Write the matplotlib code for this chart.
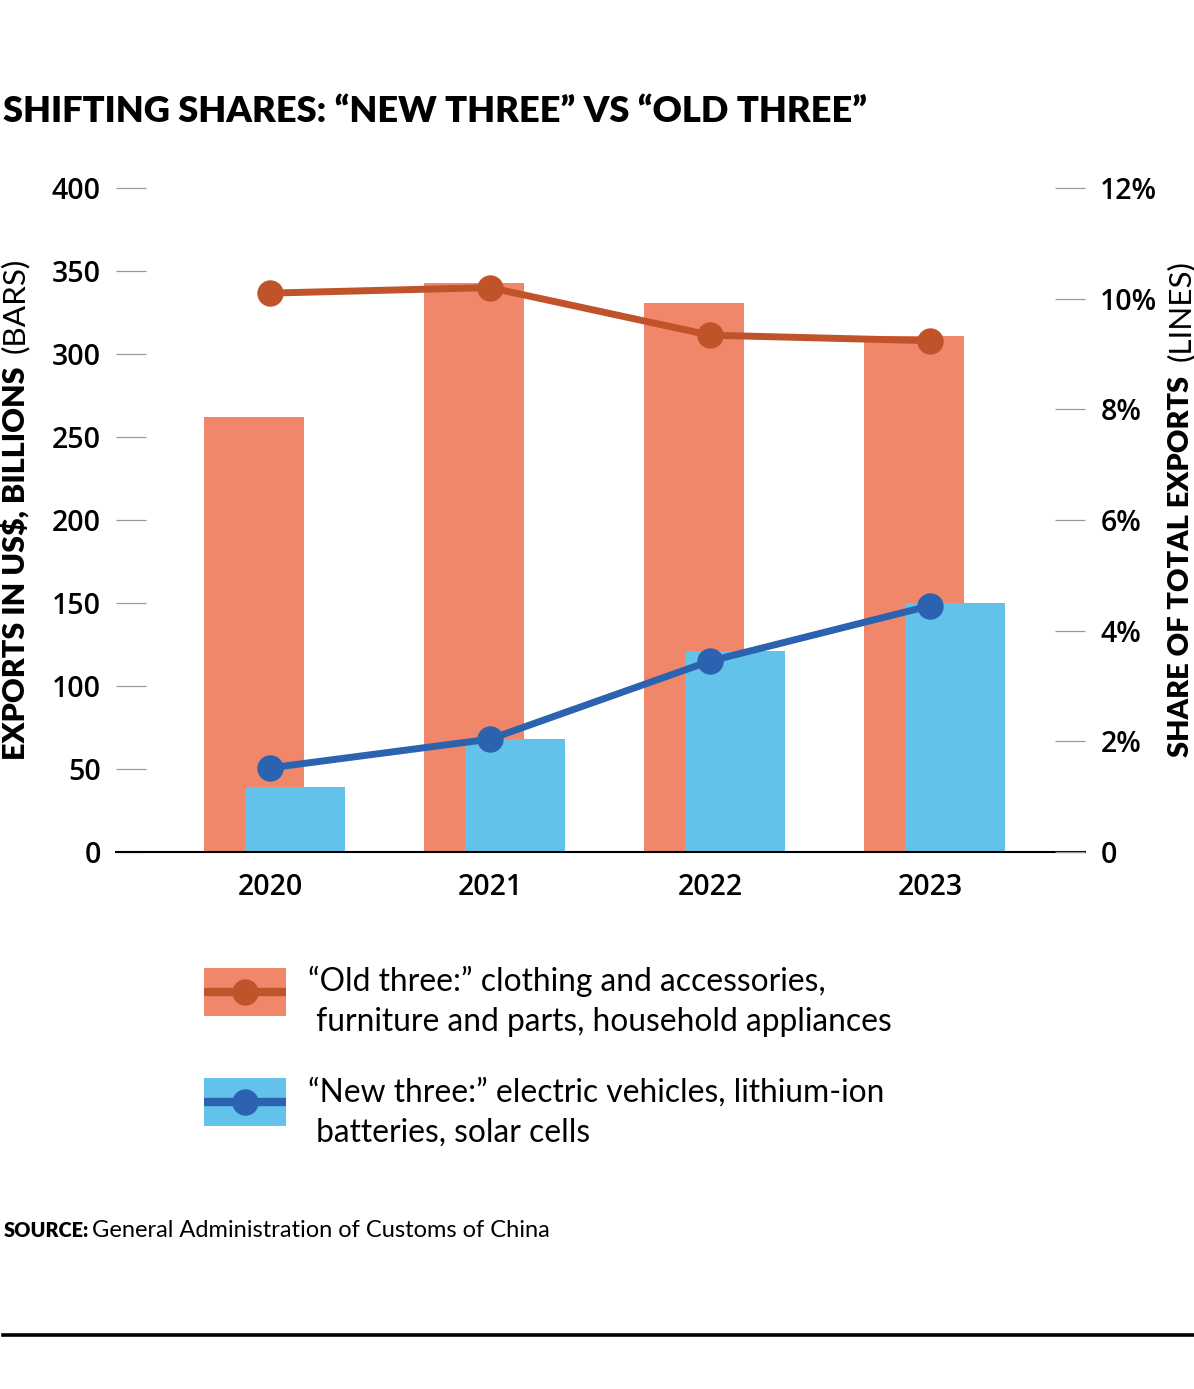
import matplotlib
matplotlib.use("Agg")
import matplotlib.pyplot as plt
from matplotlib.patches import Rectangle
from matplotlib.lines import Line2D
import numpy as np

plt.rcParams['font.family'] = ['Lato', 'DejaVu Sans']

# ---------------- data ----------------
years = ["2020", "2021", "2022", "2023"]
old_exports = [262, 343, 331, 311]        # US$ billions (bars)
new_exports = [39, 68, 121, 150]          # US$ billions (bars)
old_share = [10.1, 10.2, 9.34, 9.24]      # % of total exports (lines)
new_share = [1.52, 2.04, 3.45, 4.45]      # % of total exports (lines)
left_ticks = [0, 50, 100, 150, 200, 250, 300, 350, 400]
right_ticks = [0, 2, 4, 6, 8, 10, 12]
right_labels = ["0", "2%", "4%", "6%", "8%", "10%", "12%"]

title = "SHIFTING SHARES: \u201cNEW THREE\u201d VS \u201cOLD THREE\u201d"
old_label = ["\u201cOld three:\u201d clothing and accessories,",
             " furniture and parts, household appliances"]
new_label = ["\u201cNew three:\u201d electric vehicles, lithium-ion",
             " batteries, solar cells"]

C_OLD_BAR = "#F0876A"
C_OLD_LINE = "#C1532B"
C_NEW_BAR = "#63C2E9"
C_NEW_LINE = "#2B63B0"
TICK_FONT = ['Open Sans', 'DejaVu Sans']

W, H = 1194, 1389
fig = plt.figure(figsize=(W / 100, H / 100), dpi=100)
renderer = fig.canvas.get_renderer()


def fx(px):
    return px / W


def fy(py):
    return 1 - py / H


def fit(t, target_w, horizontal=True):
    bb = t.get_window_extent(renderer)
    cur = bb.width if horizontal else bb.height
    t.set_fontsize(t.get_fontsize() * target_w / cur)
    return t


# ---------------- main axes ----------------
ax_l, ax_r, ax_t, ax_b = 116, 1085, 188, 852
ax = fig.add_axes([fx(ax_l), fy(ax_b), fx(ax_r - ax_l), (ax_b - ax_t) / H])
x = np.arange(len(years))
bw = 100 / 220
ax.bar(x - 16 / 220, old_exports, width=bw, color=C_OLD_BAR, zorder=2)
ax.bar(x + 25 / 220, new_exports, width=bw, color=C_NEW_BAR, zorder=3)
ax.set_xlim(-0.7, 3.705)
ax.set_ylim(0, 400)
ax.set_yticks(left_ticks)
ax.set_yticklabels([str(v) for v in left_ticks])
ax.set_xticks(x)
ax.set_xticklabels(years)
for s in ["top", "left", "right"]:
    ax.spines[s].set_visible(False)
ax.spines["bottom"].set_linewidth(1.5)
ax.spines["bottom"].set_color("black")
ax.spines["bottom"].set_zorder(5)
ax.tick_params(axis='y', direction='in', length=21.6, width=0.9,
               color='#9a9a9a', pad=11, labelsize=20.5)
ax.tick_params(axis='x', length=0, pad=15, labelsize=20.5)
for lab in ax.get_xticklabels() + ax.get_yticklabels():
    lab.set_fontweight('semibold')
    lab.set_fontfamily(TICK_FONT)

ax2 = ax.twinx()
ax2.set_ylim(0, 12)
ax2.set_yticks(right_ticks)
ax2.set_yticklabels(right_labels)
for s in ax2.spines.values():
    s.set_visible(False)
ax2.tick_params(axis='y', direction='in', length=21.6, width=0.9,
                color='#9a9a9a', pad=11, labelsize=20.5)
for lab in ax2.get_yticklabels():
    lab.set_fontweight('semibold')
    lab.set_fontfamily(TICK_FONT)
ax2.plot(x, old_share, color=C_OLD_LINE, lw=5, marker='o', ms=19,
         markeredgewidth=0, solid_capstyle='round', zorder=6)
ax2.plot(x, new_share, color=C_NEW_LINE, lw=5, marker='o', ms=19,
         markeredgewidth=0, solid_capstyle='round', zorder=6)

# ---------------- title ----------------
t = fig.text(fx(3), fy(122), title, fontsize=26, fontweight='heavy',
             ha='left', va='baseline')
fit(t, 865)

# ---------------- axis labels ----------------
lb = fig.text(fx(15), fy(760), "EXPORTS IN US$, BILLIONS", rotation=90,
              fontsize=19, fontweight='heavy', ha='center', va='bottom')
fit(lb, 760 - 366, horizontal=False)
lr = fig.text(fx(15), fy(353), "(BARS)", rotation=90,
              fontsize=lb.get_fontsize(), ha='center', va='bottom')
fit(lr, 353 - 258, horizontal=False)

rb = fig.text(fx(1181), fy(757), "SHARE OF TOTAL EXPORTS", rotation=90,
              fontsize=19, fontweight='heavy', ha='center', va='bottom')
fit(rb, 757 - 375, horizontal=False)
rr = fig.text(fx(1181), fy(361), "(LINES)", rotation=90,
              fontsize=lr.get_fontsize(), ha='center', va='bottom')

# ---------------- legend ----------------
def legend_key(y_top, bar_c, line_c):
    kx0, kx1 = 204, 286
    ky0, ky1 = y_top, y_top + 48
    kax = fig.add_axes([fx(kx0), fy(ky1), fx(kx1 - kx0), (ky1 - ky0) / H])
    kax.set_xlim(0, 1)
    kax.set_ylim(0, 1)
    kax.axis('off')
    kax.add_patch(Rectangle((0, 0), 1, 1, color=bar_c, lw=0))
    kax.add_line(Line2D([0, 1], [0.5, 0.5], color=line_c, lw=6))
    kax.add_line(Line2D([0.5], [0.5], color=line_c, marker='o', ms=19,
                        markeredgewidth=0))

legend_key(968, C_OLD_BAR, C_OLD_LINE)
legend_key(1078, C_NEW_BAR, C_NEW_LINE)

l1 = fig.text(fx(308), fy(991), old_label[0], fontsize=21,
              ha='left', va='baseline')
fit(l1, 517)
fs = l1.get_fontsize()
fig.text(fx(308), fy(1031), old_label[1], fontsize=fs, ha='left', va='baseline')
fig.text(fx(308), fy(1102), new_label[0], fontsize=fs, ha='left', va='baseline')
fig.text(fx(308), fy(1142), new_label[1], fontsize=fs, ha='left', va='baseline')

# ---------------- source ----------------
s1 = fig.text(fx(4), fy(1237), "SOURCE:", fontsize=13, fontweight='heavy',
              ha='left', va='baseline')
fit(s1, 84)
s2 = fig.text(fx(92), fy(1237), "General Administration of Customs of China",
              fontsize=17, ha='left', va='baseline')
fit(s2, 458)

# ---------------- bottom rule ----------------
fig.add_artist(Line2D([fx(3), fx(1194)], [fy(1335), fy(1335)],
                      color='black', lw=2.6))

fig.savefig("out.png", dpi=100, facecolor='white')
